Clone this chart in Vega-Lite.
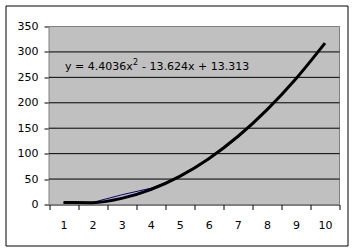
{
  "$schema": "https://vega.github.io/schema/vega-lite/v6.json",
  "width": 342,
  "height": 240,
  "autosize": {"type": "none"},
  "padding": {"left": 5.5, "top": 5.5, "right": 7.5, "bottom": 6.5},
  "background": "white",
  "config": {
    "view": {"stroke": "black", "strokeWidth": 1, "fill": "white"},
    "font": "DejaVu Sans",
    "axis": {"labelOverlap": false, "labelSeparation": -100, "labelBound": false, "labelFlush": false, "grid": false, "title": null}
  },
  "datasets": {
    "series": [
      {"x": 1, "y": 3, "trend": 4.09},
      {"x": 2, "y": 4, "trend": 3.68},
      {"x": 3, "y": 19, "trend": 12.07},
      {"x": 4, "y": 32, "trend": 29.28},
      {"x": 5, "y": 54, "trend": 55.28},
      {"x": 6, "y": 90, "trend": 90.1},
      {"x": 7, "y": 133, "trend": 133.72},
      {"x": 8, "y": 184, "trend": 186.15},
      {"x": 9, "y": 248, "trend": 247.39},
      {"x": 10, "y": 316, "trend": 317.43}
    ],
    "grid": [{"v": 50}, {"v": 100}, {"v": 150}, {"v": 200}, {"v": 250}, {"v": 300}]
  },
  "layer": [
    {
      "data": {"name": "series"},
      "mark": {"type": "rect", "fill": "#c0c0c0", "stroke": "#808080", "strokeWidth": 1},
      "transform": [{"filter": "datum.x == 1"}],
      "encoding": {
        "x": {"datum": 0.5, "type": "quantitative",
          "scale": {"domain": [0.5, 10.5], "range": [43.5, 334], "nice": false, "zero": false},
          "axis": {"values": [0.5, 1.5, 2.5, 3.5, 4.5, 5.5, 6.5, 7.5, 8.5, 9.5, 10.5], "labelExpr": "datum.value < 10 ? format(datum.value + 0.5, 'd') : ''", "labelOffset": 14.55, "labelOverlap": false, "labelSeparation": -100, "labelBound": false, "labelFlush": false, "offset": -41, "title": null, "grid": false, "domainColor": "black", "tickColor": "black", "tickSize": 5, "labelColor": "black", "labelFont": "DejaVu Sans", "labelFontSize": 11, "labelPadding": 10}},
        "x2": {"datum": 10.5},
        "y": {"datum": 0, "type": "quantitative",
          "scale": {"domain": [0, 350], "range": [199, 21], "nice": false},
          "axis": {"values": [0, 50, 100, 150, 200, 250, 300, 350], "labelOverlap": false, "labelSeparation": -100, "labelBound": false, "labelFlush": false, "offset": -43.5, "title": null, "grid": false, "domainColor": "black", "tickColor": "black", "tickSize": 5, "labelColor": "black", "labelFont": "DejaVu Sans", "labelFontSize": 11, "labelPadding": 6}},
        "y2": {"datum": 350}
      }
    },
    {
      "data": {"name": "grid"},
      "mark": {"type": "rule", "color": "black", "strokeWidth": 1},
      "encoding": {
        "x": {"datum": 0.5, "type": "quantitative",
          "axis": {"values": [0.5, 1.5, 2.5, 3.5, 4.5, 5.5, 6.5, 7.5, 8.5, 9.5, 10.5], "labelExpr": "datum.value < 10 ? format(datum.value + 0.5, 'd') : ''", "labelOffset": 14.55, "labelOverlap": false, "labelSeparation": -100, "labelBound": false, "labelFlush": false, "offset": -41, "title": null, "grid": false, "domainColor": "black", "tickColor": "black", "tickSize": 5, "labelColor": "black", "labelFont": "DejaVu Sans", "labelFontSize": 11, "labelPadding": 10}},
        "x2": {"datum": 10.5},
        "y": {"field": "v", "type": "quantitative",
          "axis": {"values": [0, 50, 100, 150, 200, 250, 300, 350], "labelOverlap": false, "labelSeparation": -100, "labelBound": false, "labelFlush": false, "offset": -43.5, "title": null, "grid": false, "domainColor": "black", "tickColor": "black", "tickSize": 5, "labelColor": "black", "labelFont": "DejaVu Sans", "labelFontSize": 11, "labelPadding": 6}}
      }
    },
    {
      "data": {"name": "series"},
      "mark": {"type": "line", "color": "#000080", "strokeWidth": 1},
      "encoding": {
        "x": {"field": "x", "type": "quantitative",
          "axis": {"values": [0.5, 1.5, 2.5, 3.5, 4.5, 5.5, 6.5, 7.5, 8.5, 9.5, 10.5], "labelExpr": "datum.value < 10 ? format(datum.value + 0.5, 'd') : ''", "labelOffset": 14.55, "labelOverlap": false, "labelSeparation": -100, "labelBound": false, "labelFlush": false, "offset": -41, "title": null, "grid": false, "domainColor": "black", "tickColor": "black", "tickSize": 5, "labelColor": "black", "labelFont": "DejaVu Sans", "labelFontSize": 11, "labelPadding": 10}},
        "y": {"field": "y", "type": "quantitative",
          "axis": {"values": [0, 50, 100, 150, 200, 250, 300, 350], "labelOverlap": false, "labelSeparation": -100, "labelBound": false, "labelFlush": false, "offset": -43.5, "title": null, "grid": false, "domainColor": "black", "tickColor": "black", "tickSize": 5, "labelColor": "black", "labelFont": "DejaVu Sans", "labelFontSize": 11, "labelPadding": 6}}
      }
    },
    {
      "data": {"name": "series"},
      "mark": {"type": "line", "color": "black", "strokeWidth": 3, "interpolate": "monotone"},
      "encoding": {
        "x": {"field": "x", "type": "quantitative",
          "axis": {"values": [0.5, 1.5, 2.5, 3.5, 4.5, 5.5, 6.5, 7.5, 8.5, 9.5, 10.5], "labelExpr": "datum.value < 10 ? format(datum.value + 0.5, 'd') : ''", "labelOffset": 14.55, "labelOverlap": false, "labelSeparation": -100, "labelBound": false, "labelFlush": false, "offset": -41, "title": null, "grid": false, "domainColor": "black", "tickColor": "black", "tickSize": 5, "labelColor": "black", "labelFont": "DejaVu Sans", "labelFontSize": 11, "labelPadding": 10}},
        "y": {"field": "trend", "type": "quantitative",
          "axis": {"values": [0, 50, 100, 150, 200, 250, 300, 350], "labelOverlap": false, "labelSeparation": -100, "labelBound": false, "labelFlush": false, "offset": -43.5, "title": null, "grid": false, "domainColor": "black", "tickColor": "black", "tickSize": 5, "labelColor": "black", "labelFont": "DejaVu Sans", "labelFontSize": 11, "labelPadding": 6}}
      }
    },
    {
      "data": {"values": [{"label": "y = 4.4036x"}]},
      "mark": {"type": "text", "align": "left", "baseline": "alphabetic", "font": "DejaVu Sans", "fontSize": 11, "color": "black"},
      "encoding": {
        "x": {"datum": 1.05, "type": "quantitative",
          "axis": {"values": [0.5, 1.5, 2.5, 3.5, 4.5, 5.5, 6.5, 7.5, 8.5, 9.5, 10.5], "labelExpr": "datum.value < 10 ? format(datum.value + 0.5, 'd') : ''", "labelOffset": 14.55, "labelOverlap": false, "labelSeparation": -100, "labelBound": false, "labelFlush": false, "offset": -41, "title": null, "grid": false, "domainColor": "black", "tickColor": "black", "tickSize": 5, "labelColor": "black", "labelFont": "DejaVu Sans", "labelFontSize": 11, "labelPadding": 10}},
        "y": {"datum": 264.5, "type": "quantitative",
          "axis": {"values": [0, 50, 100, 150, 200, 250, 300, 350], "labelOverlap": false, "labelSeparation": -100, "labelBound": false, "labelFlush": false, "offset": -43.5, "title": null, "grid": false, "domainColor": "black", "tickColor": "black", "tickSize": 5, "labelColor": "black", "labelFont": "DejaVu Sans", "labelFontSize": 11, "labelPadding": 6}},
        "text": {"field": "label", "type": "nominal"}
      }
    },
    {
      "data": {"values": [{"label": "2"}]},
      "mark": {"type": "text", "align": "left", "baseline": "alphabetic", "font": "DejaVu Sans", "fontSize": 8, "color": "black", "dx": 68, "dy": -5},
      "encoding": {
        "x": {"datum": 1.05, "type": "quantitative",
          "axis": {"values": [0.5, 1.5, 2.5, 3.5, 4.5, 5.5, 6.5, 7.5, 8.5, 9.5, 10.5], "labelExpr": "datum.value < 10 ? format(datum.value + 0.5, 'd') : ''", "labelOffset": 14.55, "labelOverlap": false, "labelSeparation": -100, "labelBound": false, "labelFlush": false, "offset": -41, "title": null, "grid": false, "domainColor": "black", "tickColor": "black", "tickSize": 5, "labelColor": "black", "labelFont": "DejaVu Sans", "labelFontSize": 11, "labelPadding": 10}},
        "y": {"datum": 264.5, "type": "quantitative",
          "axis": {"values": [0, 50, 100, 150, 200, 250, 300, 350], "labelOverlap": false, "labelSeparation": -100, "labelBound": false, "labelFlush": false, "offset": -43.5, "title": null, "grid": false, "domainColor": "black", "tickColor": "black", "tickSize": 5, "labelColor": "black", "labelFont": "DejaVu Sans", "labelFontSize": 11, "labelPadding": 6}},
        "text": {"field": "label", "type": "nominal"}
      }
    },
    {
      "data": {"values": [{"label": "- 13.624x + 13.313"}]},
      "mark": {"type": "text", "align": "left", "baseline": "alphabetic", "font": "DejaVu Sans", "fontSize": 11, "color": "black", "dx": 77},
      "encoding": {
        "x": {"datum": 1.05, "type": "quantitative",
          "axis": {"values": [0.5, 1.5, 2.5, 3.5, 4.5, 5.5, 6.5, 7.5, 8.5, 9.5, 10.5], "labelExpr": "datum.value < 10 ? format(datum.value + 0.5, 'd') : ''", "labelOffset": 14.55, "labelOverlap": false, "labelSeparation": -100, "labelBound": false, "labelFlush": false, "offset": -41, "title": null, "grid": false, "domainColor": "black", "tickColor": "black", "tickSize": 5, "labelColor": "black", "labelFont": "DejaVu Sans", "labelFontSize": 11, "labelPadding": 10}},
        "y": {"datum": 264.5, "type": "quantitative",
          "axis": {"values": [0, 50, 100, 150, 200, 250, 300, 350], "labelOverlap": false, "labelSeparation": -100, "labelBound": false, "labelFlush": false, "offset": -43.5, "title": null, "grid": false, "domainColor": "black", "tickColor": "black", "tickSize": 5, "labelColor": "black", "labelFont": "DejaVu Sans", "labelFontSize": 11, "labelPadding": 6}},
        "text": {"field": "label", "type": "nominal"}
      }
    }
  ]
}
